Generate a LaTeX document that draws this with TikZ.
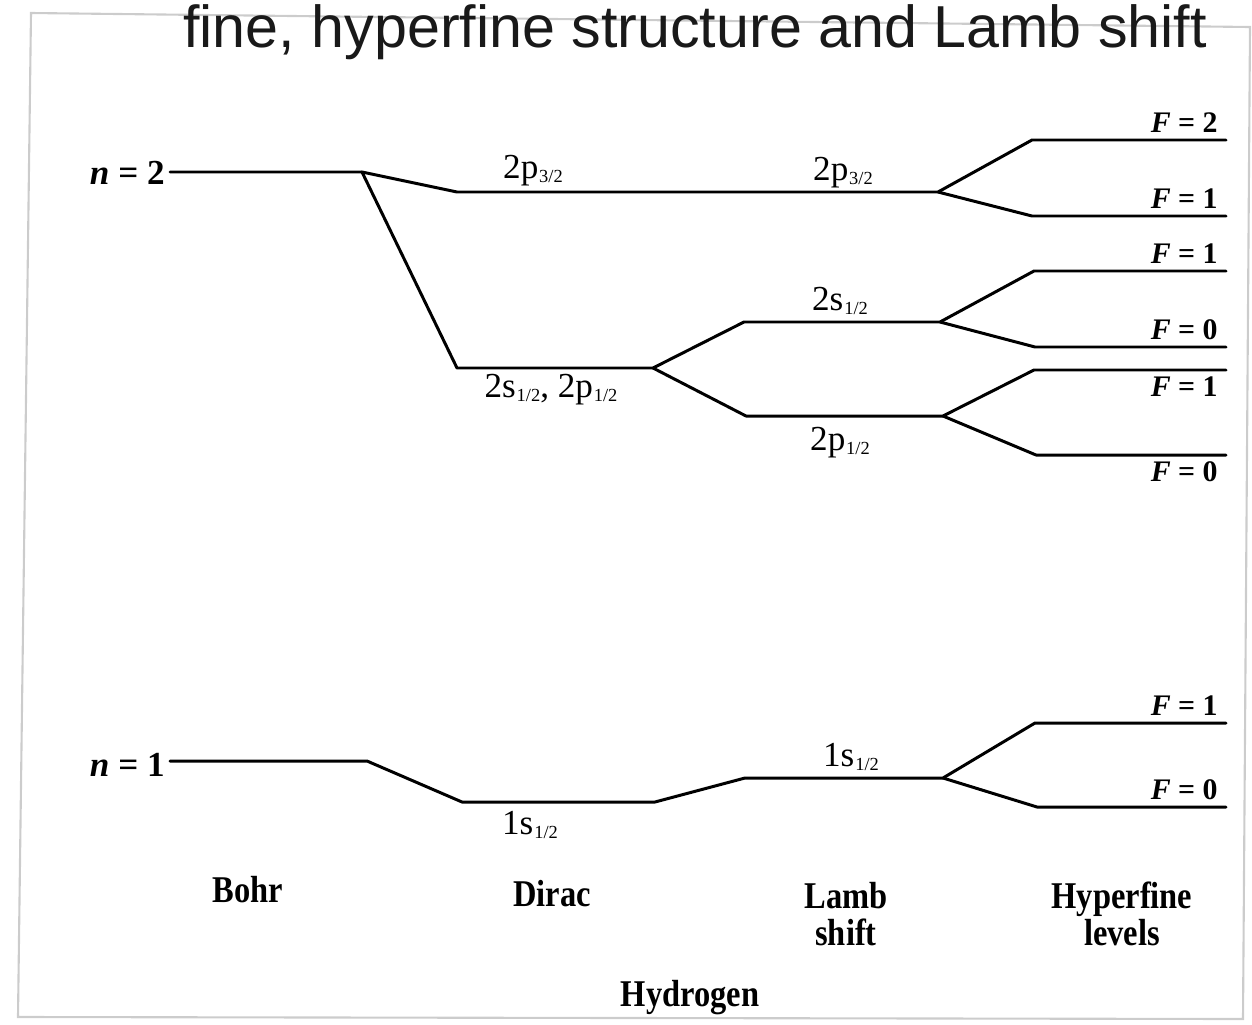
\documentclass[tikz,border=0pt]{standalone}
\usepackage{fontspec}
\setmainfont{Liberation Serif}
\newfontfamily\titlefont{Liberation Sans}
\newfontfamily\narrowserif[FakeStretch=0.86]{Liberation Serif}

\tikzset{
  level/.style={line width=1.7pt, line join=round, line cap=round},
  frame/.style={draw=gray!40, line width=1.2pt},
  state/.style={inner sep=0pt, anchor=base, font=\fontsize{20}{22}\selectfont},
  flabel/.style={inner sep=0pt, anchor=base east, font=\fontsize{17}{19}\selectfont\bfseries},
  nlabel/.style={inner sep=0pt, anchor=base east, font=\fontsize{20}{22}\selectfont\bfseries},
  column/.style={inner sep=0pt, anchor=base, align=center,
    font=\fontsize{21.5}{20.5}\selectfont\narrowserif\bfseries}
}

% level name with a small lowered j-value
\newcommand{\sublevel}[2]{#1\kern0.5pt\raisebox{-0.28ex}{\fontsize{10.5}{11}\selectfont #2}}

\begin{document}
\begin{tikzpicture}[x=0.02cm, y=-0.02cm]
  \useasboundingbox (0,0) rectangle (1252,1025);

  % page outline
  \draw[frame] (31,13) -- (1250,27) -- (1243,1019) -- (18,1017) -- cycle;

  % heading
  \node[inner sep=0pt, anchor=base west, font=\titlefont\fontsize{33.7}{36}\selectfont, text=black!90]
    (title) at (183,47) {fine, hyperfine structure and Lamb shift};

  % ---- end points of the level segments ----
  % n = 2
  \coordinate (b2w) at (170,172);   \coordinate (b2e) at (362,172);
  \coordinate (p32w) at (457,192);  \coordinate (p32e) at (938,192);
  \coordinate (dspw) at (457,368);  \coordinate (dspe) at (653,368);
  \coordinate (s12w) at (744,322);  \coordinate (s12e) at (940,322);
  \coordinate (p12w) at (746,416);  \coordinate (p12e) at (943,416);
  \coordinate (hAw) at (1032,140);  \coordinate (hAe) at (1226,140);
  \coordinate (hBw) at (1032,216);  \coordinate (hBe) at (1226,216);
  \coordinate (hCw) at (1034,271);  \coordinate (hCe) at (1226,271);
  \coordinate (hDw) at (1035,347);  \coordinate (hDe) at (1226,347);
  \coordinate (hEw) at (1034,370);  \coordinate (hEe) at (1226,370);
  \coordinate (hFw) at (1036,455);  \coordinate (hFe) at (1226,455);
  % n = 1
  \coordinate (b1w) at (170,761);   \coordinate (b1e) at (367,761);
  \coordinate (d1w) at (462,802);   \coordinate (d1e) at (655,802);
  \coordinate (l1w) at (745,778);   \coordinate (l1e) at (943,778);
  \coordinate (hGw) at (1035,723);  \coordinate (hGe) at (1226,723);
  \coordinate (hHw) at (1037,807);  \coordinate (hHe) at (1226,807);

  % ---- level lines ----
  \draw[level] (b2w) -- (b2e) -- (p32w) -- (p32e) -- (hAw) -- (hAe);
  \draw[level] (p32e) -- (hBw) -- (hBe);
  \draw[level] (b2e) -- (dspw) -- (dspe) -- (s12w) -- (s12e) -- (hCw) -- (hCe);
  \draw[level] (s12e) -- (hDw) -- (hDe);
  \draw[level] (dspe) -- (p12w) -- (p12e) -- (hEw) -- (hEe);
  \draw[level] (p12e) -- (hFw) -- (hFe);

  \draw[level] (b1w) -- (b1e) -- (d1w) -- (d1e) -- (l1w) -- (l1e) -- (hGw) -- (hGe);
  \draw[level] (l1e) -- (hHw) -- (hHe);

  % ---- principal quantum numbers ----
  \node[nlabel] (n2) at (165,184) {\textit{n} = 2};
  \node[nlabel] (n1) at (165,776) {\textit{n} = 1};

  % ---- fine structure and Lamb shift labels ----
  \node[state] (lp32d) at (533,178) {\sublevel{2p}{3/2}};
  \node[state] (lp32l) at (843,180) {\sublevel{2p}{3/2}};
  \node[state] (lsp)   at (551,397) {\sublevel{2s}{1/2}, \sublevel{2p}{1/2}};
  \node[state] (ls12)  at (840,310) {\sublevel{2s}{1/2}};
  \node[state] (lp12)  at (840,450) {\sublevel{2p}{1/2}};
  \node[state] (l1sd)  at (530,834) {\sublevel{1s}{1/2}};
  \node[state] (l1sl)  at (851,766) {\sublevel{1s}{1/2}};

  % ---- hyperfine labels ----
  \node[flabel] (fA) at (1218,132) {\textit{F} = 2};
  \node[flabel] (fB) at (1218,208) {\textit{F} = 1};
  \node[flabel] (fC) at (1218,263) {\textit{F} = 1};
  \node[flabel] (fD) at (1218,339) {\textit{F} = 0};
  \node[flabel] (fE) at (1218,396) {\textit{F} = 1};
  \node[flabel] (fF) at (1218,481) {\textit{F} = 0};
  \node[flabel] (fG) at (1218,715) {\textit{F} = 1};
  \node[flabel] (fH) at (1218,799) {\textit{F} = 0};

  % ---- column headings (base anchor sits on the last line) ----
  \node[column] (bohr)  at (248,902)  {Bohr};
  \node[column] (dirac) at (552,906)  {Dirac};
  \node[column] (lamb)  at (846,945)  {Lamb\\shift};
  \node[column] (hfs)   at (1122,945) {Hyperfine\\levels};
  \node[column] (hyd)   at (690,1006) {Hydrogen};
\end{tikzpicture}
\end{document}
